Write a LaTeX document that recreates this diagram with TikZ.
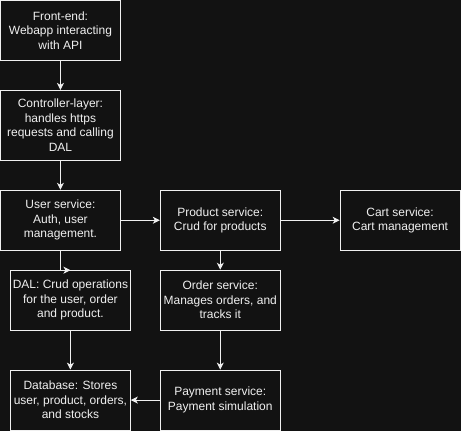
\documentclass[tikz,border=0pt]{standalone}
\usepackage{fontspec}
\setmainfont{Liberation Sans}
\usetikzlibrary{arrows.meta}
\definecolor{bg}{HTML}{121212}
\definecolor{fg}{HTML}{F0F0F0}
\begin{document}
\begin{tikzpicture}[x=1pt,y=-1pt,
  box/.style={draw=fg, fill=bg, text=fg, line width=1pt, minimum width=120pt, minimum height=60pt,
    inner sep=0pt, align=center, font=\fontsize{12}{14.5}\selectfont},
  conn/.style={draw=fg, line width=1pt, -{Stealth[length=7pt,width=7pt,inset=2pt]}}]
\fill[bg] (-0.5,-0.5) rectangle (461,431);
\useasboundingbox (-0.5,-0.5) rectangle (461,431);
\node[box] (fe) at (60,30) {Front-end:\\Webapp interacting\\with API};
\node[box, minimum height=70pt] (ctrl) at (60,125) {Controller-layer:\\handles https\\requests and calling\\DAL};
\node[box] (user) at (60,220) {User service:\\Auth, user\\management.};
\node[box] (dal) at (70,300) {DAL: Crud operations\\for the user, order\\and product.};
\node[box] (db) at (70,400) {Database: Stores\\user, product, orders,\\and stocks};
\node[box] (prod) at (220,220) {Product service:\\Crud for products};
\node[box] (cart) at (400,220) {Cart service:\\Cart management};
\node[box] (order) at (220,300) {Order service:\\Manages orders, and\\tracks it};
\node[box] (pay) at (220,400) {Payment service:\\Payment simulation};
\coordinate (dalin) at (70,270);
\draw[conn] (fe) -- (ctrl);
\draw[conn] (ctrl) -- (user);
\draw[conn] (user) -- (prod);
\draw[conn] (prod) -- (cart);
\draw[conn] (prod) -- (order);
\draw[conn] (user.south) |- (dalin);
\draw[conn] (dal.south) -- (db.north);
\draw[conn] (order) -- (pay);
\draw[conn] (pay) -- (db);
\end{tikzpicture}
\end{document}
